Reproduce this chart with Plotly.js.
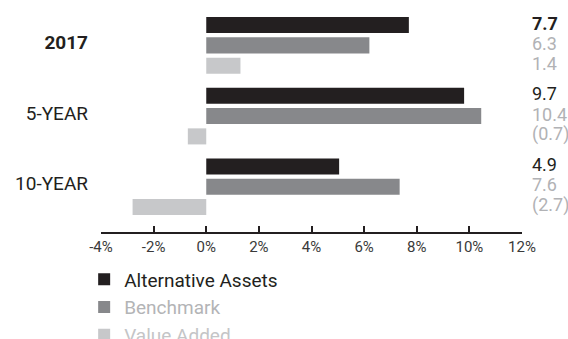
<!DOCTYPE html>
<html>
<head>
<meta charset="utf-8">
<script src="https://cdn.plot.ly/plotly-3.0.1.min.js"></script>
<style>html,body{margin:0;padding:0;background:#fff;}#chart{width:568px;height:339px;}</style>
</head>
<body>
<div id="chart"></div>
<script>
// Data
const categories = ['2017', '5-YEAR', '10-YEAR'];
const categoryLabels = ['<b>2017</b>', '5-YEAR', '10-YEAR'];
const seriesNames = ['Alternative Assets', 'Benchmark', 'Value Added'];
const alternativeAssets = [7.7, 9.8, 5.05];
const benchmark = [6.2, 10.45, 7.35];
const valueAdded = [1.3, -0.7, -2.8];
const altLabels = ['7.7', '9.7', '4.9'];
const benchLabels = ['6.3', '10.4', '7.6'];
const valueLabels = ['1.4', '(0.7)', '(2.7)'];
const xTickVals = [-4, -2, 0, 2, 4, 6, 8, 10, 12];
const xTickText = ['-4%', '-2%', '0%', '2%', '4%', '6%', '8%', '10%', '12%'];

const colors = ['#231f20', '#87888b', '#c7c8ca'];
const legendTextColors = ['#231f20', '#b3b4b6', '#c4c5c7'];
const labelColors = ['#231f20', '#b1b2b5', '#b1b2b5'];
const FONT = 'Roboto, "DejaVu Sans", sans-serif';

const bargap = 0.137;
const bargroupgap = 0.21;

const seriesValues = [alternativeAssets, benchmark, valueAdded];
const seriesLabels = [altLabels, benchLabels, valueLabels];

const traces = seriesValues.map((vals, i) => ({
  type: 'bar',
  orientation: 'h',
  name: '<span style="color:' + legendTextColors[i] + '">' + seriesNames[i] + '</span>',
  x: vals,
  y: categories,
  marker: {color: colors[i], line: {width: 0}},
  hoverinfo: 'skip'
}));

const slot = (1 - bargap) / 3;
const annotations = [];
seriesLabels.forEach((labs, s) => {
  labs.forEach((t, g) => {
    const weight = (s === 0 && g === 0) ? 'bold' : 'normal';
    annotations.push({
      xref: 'paper', yref: 'y',
      x: 1.019, xanchor: 'left',
      y: g + (s - 1) * slot, yanchor: 'middle',
      yshift: 2,
      text: t,
      showarrow: false,
      font: {family: FONT, size: 18, color: labelColors[s], weight: weight}
    });
  });
});

const layout = {
  width: 568, height: 339,
  margin: {l: 101, r: 46, t: 10, b: 107, pad: 0, autoexpand: false},
  paper_bgcolor: '#ffffff', plot_bgcolor: '#ffffff',
  barmode: 'group',
  bargap: bargap,
  bargroupgap: bargroupgap,
  showlegend: true,
  legend: {
    orientation: 'v',
    x: -0.04, xanchor: 'left',
    y: -0.128, yanchor: 'top',
    font: {family: FONT, size: 19, color: '#231f20'},
    bgcolor: 'rgba(0,0,0,0)',
    tracegroupgap: 0,
    itemclick: false
  },
  xaxis: {
    range: [-4, 12],
    tickmode: 'array', tickvals: xTickVals, ticktext: xTickText,
    ticks: 'inside', ticklen: 6, tickwidth: 2, tickcolor: '#231f20',
    showline: true, linewidth: 2, linecolor: '#231f20',
    showgrid: false, zeroline: false,
    tickfont: {family: FONT, size: 15, color: '#3a3a3a'},
    fixedrange: true
  },
  yaxis: {
    type: 'category',
    categoryorder: 'array', categoryarray: categories,
    range: [2.64, -0.5],
    tickmode: 'array', tickvals: categories, ticktext: categoryLabels,
    showline: false, showgrid: false, zeroline: false, ticks: '',
    ticklabelstandoff: 12,
    ticklabelshift: 3,
    tickfont: {family: FONT, size: 19, color: '#231f20'},
    fixedrange: true
  },
  annotations: annotations
};

Plotly.newPlot('chart', traces, layout, {staticPlot: true, displayModeBar: false});
</script>
</body>
</html>
